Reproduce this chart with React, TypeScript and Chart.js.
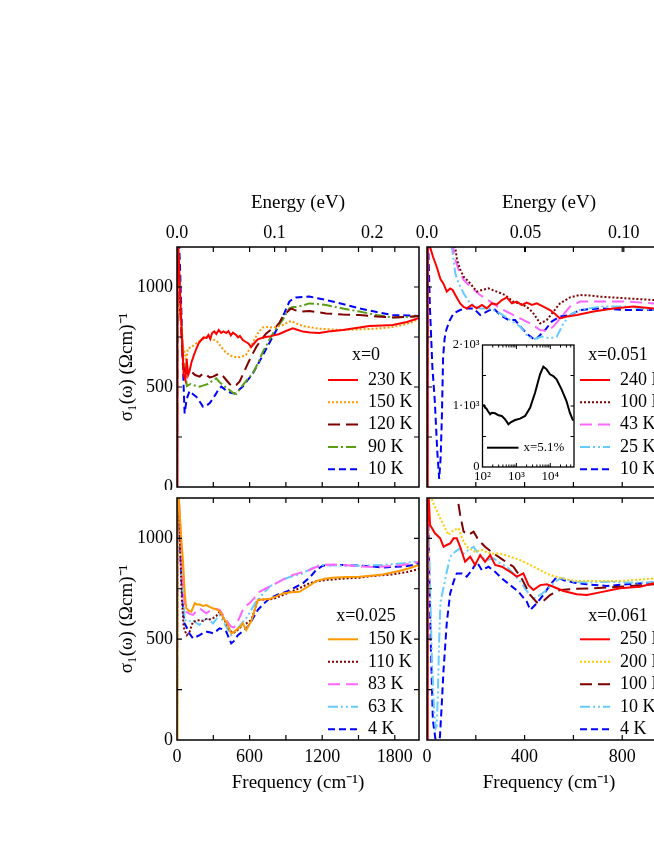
import React, { useEffect, useRef } from 'react';
import { Chart, registerables } from 'chart.js';

Chart.register(...registerables);

type Pt = [number, number];

const SERIF = '"Liberation Serif", "Times New Roman", Times, serif';
const CM_PER_EV = 8065.54;

// ---------- Panel x = 0 (cm^-1, Ohm^-1 cm^-1) ----------
const a230K: Pt[] = [[0,0],[4,1300],[30,900],[55,560],[69,535],[80,640],[92,560],[104,580],[118,620],[140,660],[159,690],[180,720],[200,735],[220,748],[242,745],[260,760],[275,740],[290,770],[308,778],[325,765],[345,785],[365,770],[385,778],[407,770],[425,780],[445,758],[462,772],[489,760],[505,748],[520,755],[544,735],[570,725],[590,718],[613,700],[640,720],[668,738],[700,745],[730,750],[764,752],[800,758],[846,765],[900,780],[957,793],[1000,785],[1040,777],[1100,772],[1177,770],[1250,778],[1370,785],[1480,795],[1590,805],[1700,808],[1783,810],[1900,825],[2000,845]];
const a150K: Pt[] = [[0,0],[4,1300],[25,900],[50,700],[77,640],[90,692],[120,700],[159,718],[200,735],[242,745],[275,748],[308,735],[335,725],[363,702],[400,675],[432,660],[465,652],[500,648],[535,652],[569,660],[600,690],[638,735],[670,770],[707,798],[740,800],[776,798],[820,800],[872,810],[910,822],[941,830],[980,820],[1037,805],[1100,798],[1175,792],[1270,788],[1370,785],[1500,788],[1645,792],[1760,798],[1865,810],[1950,825],[2000,845]];
const a120K: Pt[] = [[0,0],[4,1300],[25,900],[50,600],[77,570],[100,580],[118,577],[150,560],[187,552],[215,568],[242,560],[270,548],[297,552],[325,560],[352,568],[380,555],[407,535],[435,515],[462,502],[490,510],[517,527],[550,570],[586,618],[620,660],[655,700],[695,735],[737,768],[780,788],[820,802],[850,825],[874,852],[910,875],[943,893],[980,883],[1025,877],[1094,880],[1160,874],[1232,868],[1370,862],[1507,860],[1650,852],[1782,848],[1900,850],[2000,855]];
const a90K: Pt[] = [[0,0],[4,1300],[25,950],[50,650],[82,505],[110,515],[132,510],[160,505],[187,502],[220,508],[256,515],[290,530],[324,543],[350,525],[380,510],[410,495],[434,485],[460,472],[489,465],[515,485],[544,510],[585,540],[627,568],[670,620],[710,677],[750,720],[792,768],[835,805],[874,835],[905,870],[929,893],[960,900],[984,900],[1040,908],[1094,918],[1160,915],[1232,910],[1370,893],[1507,877],[1650,860],[1782,848],[1900,850],[2000,855]];
const a10K: Pt[] = [[0,0],[3,1300],[15,1250],[25,1100],[40,800],[52,550],[63,368],[80,440],[104,480],[130,465],[159,452],[185,430],[214,402],[240,405],[269,418],[295,440],[324,468],[345,490],[366,502],[395,488],[421,477],[450,470],[476,468],[510,485],[544,502],[585,535],[627,568],[670,615],[710,660],[750,705],[792,752],[835,800],[874,852],[905,895],[929,927],[955,940],[984,948],[1040,950],[1094,952],[1160,944],[1232,935],[1370,915],[1507,893],[1650,875],[1782,860],[1900,858],[2000,855]];

// ---------- Panel x = 0.025 ----------
const b150K: Pt[] = [[0,0],[4,1300],[20,1150],[35,1000],[50,884],[65,720],[77,653],[100,640],[118,636],[135,660],[146,678],[165,672],[187,672],[215,665],[242,669],[270,660],[297,653],[320,648],[338,645],[366,628],[385,600],[407,587],[430,555],[448,529],[470,535],[489,545],[520,560],[544,578],[572,545],[590,565],[613,587],[640,640],[668,694],[700,697],[764,699],[820,712],[874,727],[940,733],[1012,735],[1080,760],[1150,788],[1220,800],[1287,805],[1400,808],[1507,810],[1600,815],[1700,821],[1837,838],[1920,852],[2000,868]];
const b110K: Pt[] = [[0,0],[4,1300],[15,1100],[25,967],[40,700],[55,560],[70,535],[82,520],[104,537],[132,587],[160,590],[187,595],[215,590],[242,600],[270,598],[297,604],[325,615],[352,636],[380,610],[407,578],[435,545],[462,529],[490,540],[517,554],[545,575],[572,578],[613,595],[640,640],[668,694],[730,697],[792,699],[860,715],[929,732],[1010,752],[1094,777],[1160,788],[1232,793],[1370,800],[1507,805],[1650,815],[1782,821],[1900,833],[2000,848]];
const b83K: Pt[] = [[0,0],[4,1300],[20,1150],[35,950],[50,760],[65,660],[77,636],[105,625],[132,620],[160,640],[187,653],[215,640],[242,628],[270,640],[297,653],[325,650],[352,645],[380,620],[407,595],[430,575],[448,562],[470,558],[489,570],[515,605],[544,645],[570,665],[599,678],[640,705],[682,735],[750,757],[819,777],[890,800],[957,818],[1025,830],[1094,843],[1150,858],[1204,868],[1290,870],[1370,868],[1450,864],[1535,860],[1620,858],[1700,860],[1780,864],[1865,868],[1940,875],[2000,884]];
const b63K: Pt[] = [[0,0],[4,1300],[20,1100],[35,900],[50,700],[65,600],[77,587],[105,590],[132,595],[160,580],[187,570],[215,590],[242,604],[270,592],[297,578],[325,600],[352,620],[380,590],[407,562],[430,540],[448,520],[470,530],[489,545],[530,575],[572,604],[613,645],[654,686],[710,725],[764,760],[830,782],[902,802],[970,815],[1040,826],[1110,850],[1177,868],[1270,866],[1370,864],[1450,866],[1535,864],[1620,866],[1700,868],[1780,872],[1865,876],[2000,887]];
const b4K: Pt[] = [[0,0],[3,1300],[15,1150],[30,900],[45,700],[60,580],[77,562],[100,530],[132,504],[160,512],[187,520],[215,530],[242,537],[270,534],[297,529],[325,540],[352,554],[380,548],[407,537],[430,505],[448,479],[470,490],[503,520],[545,540],[586,562],[625,600],[668,645],[715,675],[764,702],[830,720],[902,735],[970,755],[1040,777],[1100,808],[1150,843],[1204,864],[1290,868],[1370,868],[1450,866],[1535,864],[1620,860],[1700,855],[1780,858],[1865,860],[1940,866],[2000,876]];

// ---------- Panel x = 0.051 ----------
const c240K: Pt[] = [[0,0],[3,1300],[12.5,1200],[25,1150],[40,1100],[55,1040],[67,1018],[81,977],[95,993],[105,985],[116,960],[136,918],[150,900],[163,893],[184,910],[204,893],[225,910],[245,893],[266,918],[286,913],[307,935],[327,948],[348,918],[368,927],[389,910],[409,922],[430,910],[450,918],[477,902],[504,885],[525,865],[545,843],[573,852],[614,860],[682,877],[764,893],[846,902],[929,893],[1000,890]];
const c100K: Pt[] = [[0,0],[3,2500],[105,1300],[123,1135],[135,1090],[150,1052],[177,1018],[204,977],[225,985],[252,993],[286,977],[320,960],[354,927],[395,910],[420,890],[436,868],[464,818],[491,835],[518,877],[545,918],[586,948],[627,960],[670,957],[709,952],[818,943],[929,935],[1000,932]];
const c43K: Pt[] = [[0,0],[3,2500],[100,1300],[112,1150],[130,1085],[150,1035],[177,1002],[218,960],[259,927],[300,893],[341,868],[382,843],[423,818],[464,785],[491,780],[518,802],[545,843],[586,902],[627,927],[709,927],[818,927],[929,918],[1000,915]];
const c25K: Pt[] = [[0,0],[3,2500],[90,1300],[102,1200],[116,1068],[130,1018],[150,968],[177,918],[218,893],[259,893],[300,868],[341,835],[382,802],[409,760],[436,738],[470,752],[504,743],[532,752],[559,818],[586,860],[627,885],[709,902],[818,902],[929,885],[1000,882]];
const c10K: Pt[] = [[0,0],[3,1300],[12,900],[22,600],[32,430],[42,180],[50,40],[56,150],[61,350],[66,650],[72,740],[79,785],[92,830],[109,868],[136,885],[163,893],[191,893],[218,860],[245,877],[273,893],[300,860],[334,835],[361,835],[389,793],[416,760],[443,735],[464,760],[484,785],[511,827],[545,852],[586,860],[627,885],[709,893],[818,885],[929,885],[1000,885]];

// ---------- Panel x = 0.061 ----------
const d250K: Pt[] = [[0,0],[3,1300],[12.5,1066],[33,1025],[54,1000],[68,958],[81,967],[95,975],[109,1000],[122,1000],[136,958],[156,884],[177,909],[197,868],[218,917],[238,884],[259,917],[279,868],[307,859],[341,834],[368,810],[395,826],[416,768],[436,744],[464,768],[491,772],[518,760],[559,739],[614,723],[655,719],[709,732],[791,752],[873,760],[929,777],[1000,790]];
const d200K: Pt[] = [[0,0],[3,1400],[18,1200],[35,1150],[54,1100],[68,1066],[88,1017],[109,1041],[129,1050],[150,983],[170,950],[197,934],[225,942],[259,925],[300,925],[341,909],[382,892],[423,868],[464,842],[504,818],[545,805],[586,793],[614,788],[682,788],[791,788],[929,801],[1000,805]];
const d100K: Pt[] = [[0,0],[3,2500],[110,1400],[123,1215],[136,1116],[150,1033],[170,1017],[191,1033],[211,992],[238,958],[273,925],[313,892],[354,859],[388,801],[423,719],[450,682],[477,689],[504,719],[545,744],[600,749],[682,752],[791,760],[929,772],[1000,778]];
const d10K: Pt[] = [[0,0],[3,1300],[10,900],[20,400],[30,120],[36,60],[40,70],[45,250],[50,500],[55,680],[67,752],[81,834],[95,909],[116,934],[136,950],[150,925],[170,942],[191,958],[218,909],[245,892],[273,901],[300,876],[327,859],[354,826],[388,777],[416,727],[436,702],[464,719],[491,744],[518,777],[545,801],[559,801],[600,785],[655,781],[736,785],[818,781],[929,781],[1000,782]];
const d4K: Pt[] = [[0,0],[3,1300],[8,900],[15,500],[24,100],[35,0],[45,-30],[53,16],[60,165],[67,332],[81,580],[95,727],[109,785],[122,826],[143,826],[163,810],[184,842],[204,884],[225,842],[252,859],[279,834],[307,801],[341,768],[375,735],[409,686],[423,645],[450,678],[477,719],[504,768],[532,809],[559,793],[600,781],[655,772],[736,764],[818,772],[929,781],[1000,785]];

// ---------- Inset (x = 5.1 %, log frequency) ----------
const insetCurve: Pt[] = [[100,1000],[110,1010],[120,972],[130,960],[144,918],[168,864],[188,890],[236,880],[295,847],[371,836],[466,781],[582,700],[698,738],[915,770],[1288,792],[1805,836],[2530,972],[3550,1218],[4980,1519],[6230,1644],[7790,1601],[9770,1519],[12240,1492],[15300,1437],[21500,1273],[30000,1082],[37700,890],[47000,760]];

// ---------- tick labels ----------
const yTickLabels = [0, 500, 1000];
const freqTicksWide = [0, 600, 1200, 1800];
const freqTicksNarrow = [0, 400, 800];
const energyTicksWide = [0, 0.1, 0.2];
const energyTicksNarrow = [0, 0.05, 0.1];
const insetXTicks = [100, 1000, 10000];
const insetXLabels = ['10²', '10³', '10⁴'];
const insetYTicks = [0, 1000, 2000];
const insetYLabels = ['0', '1·10³', '2·10³'];

// ---------- styles ----------
const RED = '#ff0000', ORANGE = '#ff9900', MAROON = '#800000', GREEN = '#5a9e14', BLUE = '#0000ff', PINK = '#ff66ff', SKY = '#66ccff', YELLOW = '#ffcc00';
const SOLID: number[] = [];
const DOT = [2, 2];
const LONG = [12, 6];
const DASHDOT = [10, 3, 2, 3];
const DASHDOTDOT = [10, 3, 2, 3, 2, 3];
const SHORT = [7, 4];

type Series = { label: string; data: Pt[]; color: string; dash: number[] };
type Panel = {
  key: string;
  box: { left: number; top: number; width: number; height: number };
  padding: { left: number; top: number; right: number; bottom: number };
  xMax: number; xStep: number;
  xLabels: number[] | null;
  energy: number[] | null;
  energyFmt: (v: number) => string;
  yLabels: boolean;
  header: string; headerDy: number; rowDy: number; rowStep: number;
  series: Series[];
};

const fmtWide = (v: number) => v.toFixed(1);
const fmtNarrow = (v: number) => (v === 0 ? '0.0' : v.toFixed(2));

const LEFT_BOX_X = 105;
const Y_AXIS_W = 72;
const Y_TITLE_CENTER = 127;

const PANELS: Panel[] = [
  {
    key: 'a', box: { left: LEFT_BOX_X, top: 190, width: 316, height: 300 }, padding: { left: 0, top: 0, right: 2, bottom: 3 },
    xMax: 2000, xStep: 300, xLabels: null, energy: energyTicksWide, energyFmt: fmtWide, yLabels: true,
    header: 'x=0', headerDy: 132, rowDy: 107, rowStep: 22.3,
    series: [
      { label: '230 K', data: a230K, color: RED, dash: SOLID },
      { label: '150 K', data: a150K, color: ORANGE, dash: DOT },
      { label: '120 K', data: a120K, color: MAROON, dash: LONG },
      { label: '90 K', data: a90K, color: GREEN, dash: DASHDOT },
      { label: '10 K', data: a10K, color: BLUE, dash: SHORT },
    ],
  },
  {
    key: 'b', box: { left: LEFT_BOX_X, top: 496, width: 316, height: 304 }, padding: { left: 0, top: 2, right: 2, bottom: 0 },
    xMax: 2000, xStep: 300, xLabels: freqTicksWide, energy: null, energyFmt: fmtWide, yLabels: true,
    header: 'x=0.025', headerDy: 124, rowDy: 100.7, rowStep: 22.5,
    series: [
      { label: '150 K', data: b150K, color: ORANGE, dash: SOLID },
      { label: '110 K', data: b110K, color: MAROON, dash: DOT },
      { label: '83 K', data: b83K, color: PINK, dash: LONG },
      { label: '63 K', data: b63K, color: SKY, dash: DASHDOTDOT },
      { label: '4 K', data: b4K, color: BLUE, dash: SHORT },
    ],
  },
  {
    key: 'c', box: { left: 410, top: 190, width: 271, height: 300 }, padding: { left: 17, top: 0, right: 10, bottom: 3 },
    xMax: 1000, xStep: 200, xLabels: null, energy: energyTicksNarrow, energyFmt: fmtNarrow, yLabels: false,
    header: 'x=0.051', headerDy: 132, rowDy: 107, rowStep: 22.3,
    series: [
      { label: '240 K', data: c240K, color: RED, dash: SOLID },
      { label: '100 K', data: c100K, color: MAROON, dash: DOT },
      { label: '43 K', data: c43K, color: PINK, dash: LONG },
      { label: '25 K', data: c25K, color: SKY, dash: DASHDOTDOT },
      { label: '10 K', data: c10K, color: BLUE, dash: SHORT },
    ],
  },
  {
    key: 'd', box: { left: 410, top: 496, width: 271, height: 304 }, padding: { left: 17, top: 2, right: 10, bottom: 0 },
    xMax: 1000, xStep: 200, xLabels: freqTicksNarrow, energy: null, energyFmt: fmtNarrow, yLabels: false,
    header: 'x=0.061', headerDy: 124, rowDy: 100.7, rowStep: 22.5,
    series: [
      { label: '250 K', data: d250K, color: RED, dash: SOLID },
      { label: '200 K', data: d200K, color: YELLOW, dash: DOT },
      { label: '100 K', data: d100K, color: MAROON, dash: LONG },
      { label: '10 K', data: d10K, color: SKY, dash: DASHDOTDOT },
      { label: '4 K', data: d4K, color: BLUE, dash: SHORT },
    ],
  },
];

const font = (size: number) => ({ family: SERIF, size, lineHeight: 1.2 });

function makeDecor(p: Panel) {
  return {
    id: 'decor_' + p.key,
    afterDatasetsDraw(chart: any) {
      const { ctx, chartArea: a, scales } = chart;
      const T = 5;
      ctx.save();
      ctx.strokeStyle = '#000';
      ctx.lineWidth = 1.2;
      ctx.setLineDash([]);
      ctx.beginPath();
      for (let v = p.xStep; v < p.xMax; v += p.xStep) {
        const px = scales.x.getPixelForValue(v);
        ctx.moveTo(px, a.bottom); ctx.lineTo(px, a.bottom - T);
        ctx.moveTo(px, a.top); ctx.lineTo(px, a.top + T);
      }
      if (p.energy) {
        for (const e of p.energy) {
          if (e === 0) continue;
          const px = scales.xe.getPixelForValue(e);
          ctx.moveTo(px, a.top); ctx.lineTo(px, a.top + T);
        }
      }
      for (let v = 250; v < 1200; v += 250) {
        const py = scales.y.getPixelForValue(v);
        ctx.moveTo(a.left, py); ctx.lineTo(a.left + T, py);
        ctx.moveTo(a.right, py); ctx.lineTo(a.right - T, py);
      }
      ctx.stroke();
      ctx.lineWidth = 1.5;
      ctx.strokeRect(a.left, a.top, a.right - a.left, a.bottom - a.top);

      // legend
      const x0 = a.right - 91;
      ctx.fillStyle = '#000';
      ctx.font = `18px ${SERIF}`;
      ctx.textBaseline = 'middle';
      ctx.textAlign = 'center';
      ctx.fillText(p.header, x0 + 38, a.bottom - p.headerDy);
      ctx.textAlign = 'left';
      chart.data.datasets.forEach((ds: any, i: number) => {
        const y = a.bottom - p.rowDy + i * p.rowStep;
        ctx.strokeStyle = ds.borderColor;
        ctx.lineWidth = 2;
        ctx.setLineDash(ds.borderDash || []);
        ctx.beginPath();
        ctx.moveTo(x0, y); ctx.lineTo(x0 + 30, y);
        ctx.stroke();
        ctx.setLineDash([]);
        ctx.fillText(ds.label, x0 + 40, y);
      });
      ctx.restore();
    },
  };
}

function panelConfig(p: Panel): any {
  const showX = !!p.xLabels;
  const showE = !!p.energy;
  return {
    type: 'line',
    data: {
      datasets: p.series.map((s) => ({
        label: s.label,
        data: s.data.map(([x, y]) => ({ x, y })),
        borderColor: s.color,
        borderDash: s.dash,
        borderWidth: 2,
        pointRadius: 0,
        fill: false,
        tension: 0,
        xAxisID: 'x',
        yAxisID: 'y',
      })),
    },
    options: {
      animation: false,
      responsive: false,
      devicePixelRatio: 1,
      layout: { padding: p.padding },
      plugins: { legend: { display: false }, tooltip: { enabled: false } },
      scales: {
        x: {
          type: 'linear', position: 'bottom', min: 0, max: p.xMax,
          display: showX,
          grid: { display: false, drawTicks: false }, border: { display: false },
          afterBuildTicks: (s: any) => { s.ticks = (p.xLabels || []).map((v) => ({ value: v })); },
          ticks: { font: font(18), color: '#000', padding: 6, maxRotation: 0, autoSkip: false, callback: (v: any) => String(v) },
          title: { display: true, text: 'Frequency (cm⁻¹)', font: font(19), color: '#000', padding: { top: 0, bottom: 5.6 } },
          afterFit: (s: any) => { if (showX) s.height = 60; s.paddingLeft = 0; s.paddingRight = 0; },
        },
        xe: {
          type: 'linear', position: 'top', min: 0, max: p.xMax / CM_PER_EV,
          display: showE,
          grid: { display: false, drawTicks: false }, border: { display: false },
          afterBuildTicks: (s: any) => { s.ticks = (p.energy || []).map((v) => ({ value: v })); },
          ticks: { font: font(18), color: '#000', padding: 3, maxRotation: 0, autoSkip: false, callback: (v: any) => p.energyFmt(Number(v)) },
          title: { display: true, text: 'Energy (eV)', font: font(19), color: '#000', padding: { top: 1.9, bottom: 0 } },
          afterFit: (s: any) => { if (showE) s.height = 57; s.paddingLeft = 0; s.paddingRight = 0; },
        },
        y: {
          type: 'linear', position: 'left', min: 0, max: 1200,
          display: p.yLabels,
          grid: { display: false, drawTicks: false }, border: { display: false },
          afterBuildTicks: (s: any) => { s.ticks = yTickLabels.map((v) => ({ value: v })); },
          ticks: { font: font(18), color: '#000', padding: 4, autoSkip: false, callback: (v: any) => String(v) },
          title: { display: true, text: 'σ₁(ω) (Ωcm)⁻¹', font: font(19), color: '#000', padding: { top: Y_TITLE_CENTER - LEFT_BOX_X - 11.4, bottom: 0 } },
          afterFit: (s: any) => { if (p.yLabels) s.width = Y_AXIS_W; s.paddingTop = 0; s.paddingBottom = 0; },
        },
      },
    },
    plugins: [makeDecor(p)],
  };
}

const INSET_BOX = { left: 436, top: 330, width: 140, height: 157 };

function insetConfig(): any {
  const decor = {
    id: 'insetDecor',
    beforeDatasetsDraw(chart: any) {
      const { ctx, chartArea: a } = chart;
      ctx.save();
      ctx.fillStyle = '#fff';
      ctx.fillRect(a.left, a.top, a.right - a.left, a.bottom - a.top);
      ctx.restore();
    },
    afterDatasetsDraw(chart: any) {
      const { ctx, chartArea: a, scales } = chart;
      ctx.save();
      ctx.strokeStyle = '#000';
      ctx.lineWidth = 1;
      ctx.beginPath();
      for (const d of [100, 1000, 10000]) {
        for (let k = 1; k <= 9; k++) {
          const v = k * d;
          if (v <= 100 || v >= 50000) continue;
          const len = k === 1 ? 4 : 2.5;
          const px = scales.x.getPixelForValue(v);
          ctx.moveTo(px, a.bottom); ctx.lineTo(px, a.bottom - len);
          ctx.moveTo(px, a.top); ctx.lineTo(px, a.top + len);
        }
      }
      for (let v = 500; v < 2000; v += 500) {
        const py = scales.y.getPixelForValue(v);
        ctx.moveTo(a.left, py); ctx.lineTo(a.left + 3.5, py);
        ctx.moveTo(a.right, py); ctx.lineTo(a.right - 3.5, py);
      }
      ctx.stroke();
      ctx.lineWidth = 1.3;
      ctx.strokeRect(a.left, a.top, a.right - a.left, a.bottom - a.top);
      // legend
      const ds = chart.data.datasets[0];
      const y = a.bottom - 19.3;
      ctx.strokeStyle = ds.borderColor;
      ctx.lineWidth = 2;
      ctx.beginPath();
      ctx.moveTo(a.left + 4.5, y); ctx.lineTo(a.left + 36, y);
      ctx.stroke();
      ctx.fillStyle = '#000';
      ctx.font = `13px ${SERIF}`;
      ctx.textAlign = 'left';
      ctx.textBaseline = 'middle';
      ctx.fillText(ds.label, a.left + 41, y);
      ctx.restore();
    },
  };
  return {
    type: 'line',
    data: {
      datasets: [{
        label: 'x=5.1%',
        data: insetCurve.map(([x, y]) => ({ x, y })),
        borderColor: '#000', borderWidth: 2, pointRadius: 0, fill: false, tension: 0,
      }],
    },
    options: {
      animation: false, responsive: false, devicePixelRatio: 1,
      layout: { padding: { left: 0, top: 15, right: 2, bottom: 0 } },
      plugins: { legend: { display: false }, tooltip: { enabled: false } },
      scales: {
        x: {
          type: 'logarithmic', position: 'bottom', min: 100, max: 50000,
          grid: { display: false, drawTicks: false }, border: { display: false },
          afterBuildTicks: (s: any) => { s.ticks = insetXTicks.map((v) => ({ value: v })); },
          ticks: { font: font(13), color: '#000', padding: 2, maxRotation: 0, autoSkip: false,
            callback: (v: any) => insetXLabels[insetXTicks.indexOf(Number(v))] ?? '' },
          afterFit: (s: any) => { s.height = 20; s.paddingLeft = 0; s.paddingRight = 0; },
        },
        y: {
          type: 'linear', position: 'left', min: 0, max: 2000,
          grid: { display: false, drawTicks: false }, border: { display: false },
          afterBuildTicks: (s: any) => { s.ticks = insetYTicks.map((v) => ({ value: v })); },
          ticks: { font: font(12.5), color: '#000', padding: 3, autoSkip: false,
            callback: (v: any) => insetYLabels[insetYTicks.indexOf(Number(v))] ?? '' },
          afterFit: (s: any) => { s.width = 46.5; s.paddingTop = 0; s.paddingBottom = 0; },
        },
      },
    },
    plugins: [decor],
  };
}

export default function App() {
  const canvases = useRef<(HTMLCanvasElement | null)[]>([]);
  const insetRef = useRef<HTMLCanvasElement | null>(null);

  useEffect(() => {
    const charts: Chart[] = [];
    PANELS.forEach((p, i) => {
      const el = canvases.current[i];
      if (el) charts.push(new Chart(el, panelConfig(p)));
    });
    if (insetRef.current) charts.push(new Chart(insetRef.current, insetConfig()));
    return () => charts.forEach((c) => c.destroy());
  }, []);

  return (
    <div style={{ position: 'fixed', left: 0, top: 0, width: 654, height: 846, overflow: 'hidden', background: '#fff' }}>
      {PANELS.map((p, i) => (
        <canvas
          key={p.key}
          ref={(el) => { canvases.current[i] = el; }}
          width={p.box.width}
          height={p.box.height}
          style={{ position: 'absolute', left: p.box.left, top: p.box.top, width: p.box.width, height: p.box.height }}
        />
      ))}
      <canvas
        ref={insetRef}
        width={INSET_BOX.width}
        height={INSET_BOX.height}
        style={{ position: 'absolute', left: INSET_BOX.left, top: INSET_BOX.top, width: INSET_BOX.width, height: INSET_BOX.height }}
      />
    </div>
  );
}
